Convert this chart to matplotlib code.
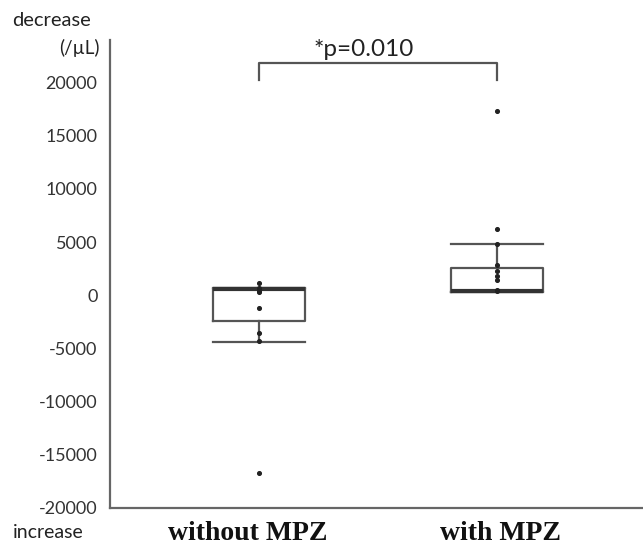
import matplotlib
matplotlib.use("Agg")
import matplotlib.pyplot as plt

groups = ["without MPZ", "with MPZ"]
q1 = [-2400, 330]
med = [550, 380]
q3 = [700, 2600]
whislo = [-4400, 330]
whishi = [700, 4850]
pts_without = [1200, 650, 500, 400, 300, -1150, -3500, -4300, -16700]
pts_with = [17300, 6200, 4850, 2800, 2300, 1850, 1400, 450, 380]
yticks = [-20000, -15000, -10000, -5000, 0, 5000, 10000, 15000, 20000]
p_text = "*p=0.010"

line_c = "#555555"
txt_c = "#222222"

fig = plt.figure(figsize=(6.43, 5.48), dpi=100)
ax = fig.add_axes([110 / 643, 40 / 548, 533 / 643, 468 / 548])

stats = [dict(q1=a, med=m, q3=b, whislo=lo, whishi=hi, fliers=[], label=g)
         for g, a, m, b, lo, hi in zip(groups, q1, med, q3, whislo, whishi)]
ax.bxp(stats, positions=[1, 2], widths=0.39, showfliers=False,
       boxprops=dict(color=line_c, lw=1.6),
       medianprops=dict(color="#333333", lw=3),
       whiskerprops=dict(color=line_c, lw=1.6),
       capprops=dict(color=line_c, lw=1.6),
       capwidths=0.39)

for pos, pts in zip([1, 2], [pts_without, pts_with]):
    ax.scatter([pos] * len(pts), pts, s=7, c="#222222", zorder=3)

# significance bracket
ax.plot([1, 1, 2, 2], [20200, 21800, 21800, 20200], color=line_c, lw=1.6,
        clip_on=False)
ax.text(1.44, 22100, p_text, ha="center", va="bottom", fontsize=17.5,
        family="Lato", color=txt_c)

ax.set_xlim(0.374, 2.613)
ax.set_ylim(-20000, 24000)
ax.set_yticks(yticks)
ax.set_yticklabels([str(v) for v in yticks], family="Lato", fontsize=13,
                   color="#333333")
ax.tick_params(axis="y", length=0, pad=9)
ax.set_xticks([])
ax.spines["top"].set_visible(False)
ax.spines["right"].set_visible(False)
for side in ("left", "bottom"):
    ax.spines[side].set_color("#666666")
    ax.spines[side].set_linewidth(1.6)

# group labels sit slightly off the box centres in the original
for g, xc in zip(groups, [248, 501]):
    fig.text(xc / 643, 1 - 533 / 548, g, family="Liberation Serif",
             fontweight="bold", fontsize=20, color="#111111",
             ha="center", va="center")

fig.text(12 / 643, 1 - 20 / 548, "decrease", family="Lato", fontsize=14.5,
         color=txt_c, va="center", ha="left")
fig.text(100 / 643, 1 - 48 / 548, "(/\u00b5L)", family="Lato", fontsize=13.5,
         color=txt_c, va="center", ha="right")
fig.text(13 / 643, 1 - 533 / 548, "increase", family="Lato", fontsize=14,
         color=txt_c, va="center", ha="left")

fig.savefig("out.png", dpi=100)
plt.close(fig)
